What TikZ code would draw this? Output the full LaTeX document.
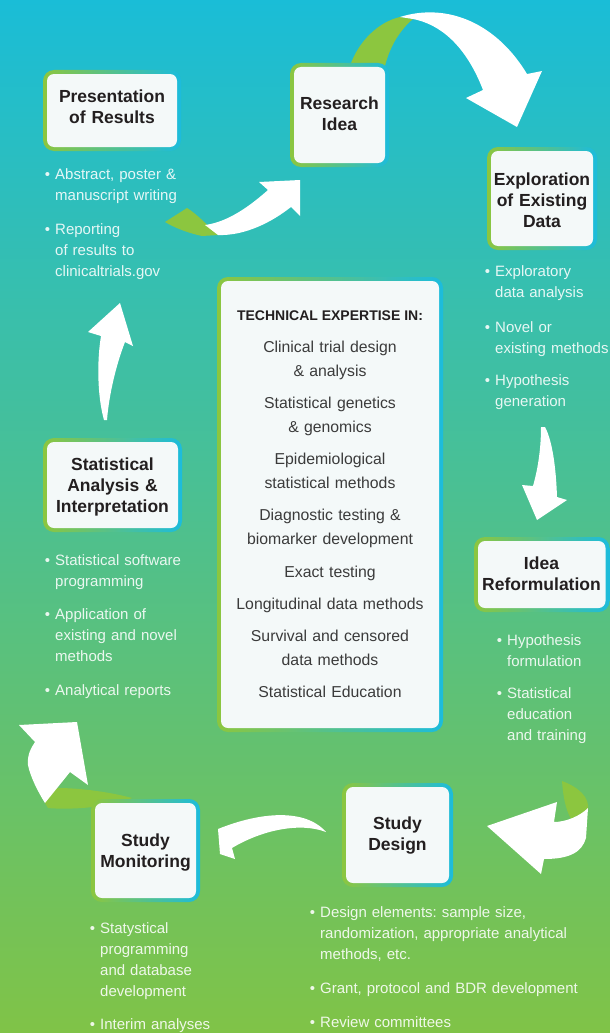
\documentclass[tikz,border=0pt]{standalone}
\usepackage{fontspec}
\setmainfont{Liberation Sans}
\frenchspacing
\definecolor{skytop}{HTML}{1ABDD7}
\definecolor{skymid}{HTML}{50BFA2}
\definecolor{skybot}{HTML}{80C347}
\definecolor{bgreen}{HTML}{8CC63F}
\definecolor{bcyan}{HTML}{1CBCDC}
\definecolor{boxfill}{HTML}{F4F9F9}
\definecolor{titlec}{HTML}{231F20}
\definecolor{bodyc}{HTML}{3B3B3B}
\definecolor{leaf}{HTML}{8CC63F}
\tikzset{
  boxnode/.style={fill=boxfill, rounded corners=7pt, inner sep=0pt},
  ttl/.style={font=\fontsize{17.5}{21}\selectfont\bfseries, text=titlec, align=center, anchor=base, inner sep=0pt, text width=140pt},
  bul/.style={font=\fontsize{15}{21}\selectfont\frenchspacing, text=white, text opacity=0.88, anchor=base west, inner sep=0pt, text width=300pt, align=left},
  techhead/.style={font=\fontsize{14}{17}\selectfont\bfseries, text=titlec, anchor=base, inner sep=0pt},
  techitem/.style={font=\fontsize{15.8}{24}\selectfont\frenchspacing, text=bodyc, anchor=base, inner sep=0pt, text width=220pt, align=center},
  arrw/.style={fill=white},
  arrg/.style={fill=leaf},
}
\newcommand\gbox[5]{%
  \shade[left color=bgreen, right color=bcyan, rounded corners=11pt] (#2,#3) rectangle (#4,#5);
  \node[boxnode, minimum width={(#4-#2-8)*1pt}, minimum height={(#5-#3-8)*1pt}] (#1) at ({(#2+#4)/2},{(#3+#5)/2}) {};
}
\newcommand\bt{\llap{•\hspace{5pt}}}
\begin{document}
\begin{tikzpicture}[x=1pt,y=-1pt]
\useasboundingbox (0,0) rectangle (610,1033);
\shade[top color=skytop, middle color=skymid, bottom color=skybot] (0,0) rectangle (610,1033);

% arrow: presentation -> research idea
\fill[arrg] (187,208) .. controls (197,214) and (208,226) .. (218,235) -- (202,236) .. controls (188,233) and (175,228) .. (165,222) -- cycle;
\fill[arrw] (218,235) .. controls (245,236) and (272,222) .. (291,207) -- (300,216) -- (300,180) -- (259,182) -- (268,190) .. controls (250,206) and (228,222) .. (205,225) -- cycle;
% arrow: research idea -> exploration
\fill[arrg] (350,66) .. controls (358,42) and (378,22) .. (400,17) -- (413,19) .. controls (400,30) and (390,46) .. (385,66) -- cycle;
\fill[arrw] (400,17) .. controls (448,2) and (497,24) .. (527,74) -- (542,71) -- (517,127) -- (466,98) -- (483,90) .. controls (470,56) and (448,26) .. (413,19) -- cycle;
% arrow: exploration -> idea reformulation
\fill[arrw] (541,427) .. controls (541,452) and (537,472) .. (533,486) -- (522,485) -- (537,520) -- (567,500) -- (557,497) .. controls (556,466) and (552,440) .. (545,427) -- cycle;
% arrow: idea reformulation -> study design
\fill[arrg] (562,781) .. controls (578,787) and (590,797) .. (588,810) -- (571,819) .. controls (565,808) and (563,795) .. (562,781) -- cycle;
\fill[arrw] (487,826) -- (557,802) -- (554,822) .. controls (566,822) and (580,816) .. (588,808) -- (586,838) .. controls (582,852) and (570,859) .. (544,859) -- (541,874) -- cycle;
% arrow: study design -> study monitoring
\fill[arrw] (326,832) .. controls (305,808) and (260,812) .. (218,829) -- (220,854) -- (235,859) -- (232,848) .. controls (262,830) and (300,822) .. (326,832) -- cycle;
% arrow: study monitoring -> statistical analysis
\fill[arrg] (45,803) .. controls (48,795) and (52,790) .. (58,788) .. controls (80,788) and (110,792) .. (132,798) .. controls (115,805) and (100,807) .. (93,807) .. controls (75,809) and (58,809) .. (48,808) -- cycle;
\fill[arrw] (19,725) -- (77,722) -- (88,785) -- (70,772) -- (45,803) .. controls (38,792) and (30,776) .. (28,765) .. controls (27,755) and (31,748) .. (35,742) -- cycle;
% arrow: statistical analysis -> presentation
\fill[arrw] (104,420) .. controls (97,395) and (97,360) .. (101,336) -- (88,332) -- (120,303) -- (133,346) -- (125,342) .. controls (116,365) and (109,395) .. (107,420) -- cycle;

% boxes
\gbox{pres}{43}{70}{181}{151}
\gbox{ri}{290}{63}{389}{167}
\gbox{expl}{487}{147}{597}{250}
\gbox{idea}{474}{537}{609.5}{612}
\gbox{stat}{43}{438}{182}{532}
\gbox{tech}{217}{277}{443}{732}
\gbox{sdes}{342}{783}{453}{887}
\gbox{smon}{91}{799}{200}{902}

% titles
\node[ttl] (presT) at (112,102.5) {Presentation\\of Results};
\node[ttl] (riT) at (339.5,109.5) {Research\\Idea};
\node[ttl] (explT) at (542,185.5) {Exploration\\of Existing\\Data};
\node[ttl] (ideaT) at (541.5,569.5) {Idea\\Reformulation};
\node[ttl] (statT) at (112.5,470.5) {Statistical\\Analysis \&\\Interpretation};
\node[ttl] (sdesT) at (397.5,829.5) {Study\\Design};
\node[ttl] (smonT) at (145.5,846.5) {Study\\Monitoring};

% technical expertise
\node[techhead] (th) at (330,320) {TECHNICAL EXPERTISE IN:};
\node[techitem] (t1) at (330,352.5) {Clinical trial design\\ \& analysis};
\node[techitem] (t2) at (330,408.5) {Statistical genetics\\ \& genomics};
\node[techitem] (t3) at (330,464.5) {Epidemiological\\statistical methods};
\node[techitem] (t4) at (330,520.5) {Diagnostic testing \&\\biomarker development};
\node[techitem] (t5) at (330,577.5) {Exact testing};
\node[techitem] (t6) at (330,609.5) {Longitudinal data methods};
\node[techitem] (t7) at (330,641.5) {Survival and censored\\data methods};
\node[techitem] (t8) at (330,697.5) {Statistical Education};

% bullets
\node[bul] (p1) at (55,179) {\bt Abstract, poster \&\\manuscript writing};
\node[bul] (p2) at (55,234) {\bt Reporting\\of results to\\clinicaltrials.gov};
\node[bul] (e1) at (495,276) {\bt Exploratory\\data analysis};
\node[bul] (e2) at (495,332) {\bt Novel or\\existing methods};
\node[bul] (e3) at (495,385) {\bt Hypothesis\\generation};
\node[bul] (i1) at (507,645) {\bt Hypothesis\\formulation};
\node[bul] (i2) at (507,698) {\bt Statistical\\education\\and training};
\node[bul] (s1) at (55,565) {\bt Statistical software\\programming};
\node[bul] (s2) at (55,619) {\bt Application of\\existing and novel\\methods};
\node[bul] (s3) at (55,695) {\bt Analytical reports};
\node[bul] (m1) at (100,933) {\bt Statystical\\programming\\and database\\development};
\node[bul] (m2) at (100,1029) {\bt Interim analyses};
\node[bul] (d1) at (320,917) {\bt Design elements: sample size,\\randomization, appropriate analytical\\methods, etc.};
\node[bul] (d2) at (320,993) {\bt Grant, protocol and BDR development};
\node[bul] (d3) at (320,1027) {\bt Review committees};
\end{tikzpicture}
\end{document}
